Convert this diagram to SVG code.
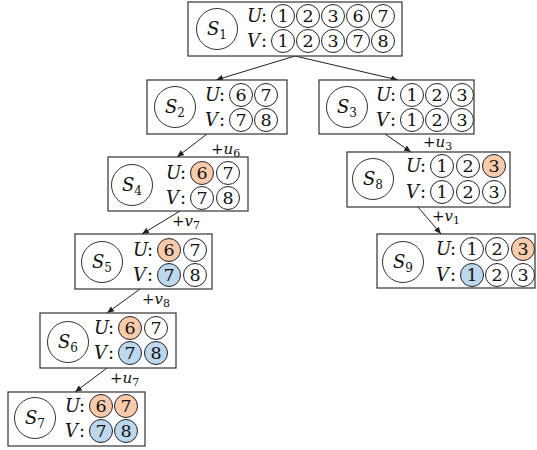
<svg xmlns="http://www.w3.org/2000/svg" width="537" height="450" viewBox="0 0 537 450">
<defs>
<style>
text{font-family:"DejaVu Serif",serif;fill:#111}
.box{fill:#fff;stroke:#333;stroke-width:1.2}
.sc{fill:#fff;stroke:#333;stroke-width:1}
.c{fill:#fff;stroke:#222;stroke-width:1}
.o{fill:#F8CBAD}
.b{fill:#BDD7EE}
.d{font-size:17.5px;text-anchor:middle}
.lab{font-size:18px;font-style:italic}
.col{font-size:18px}
.s{font-size:18px;text-anchor:middle}
.el{font-size:15px}
.edge{stroke:#222;stroke-width:1;fill:none;marker-end:url(#ah)}
</style>
<marker id="ah" markerWidth="8" markerHeight="8" refX="7" refY="4" orient="auto" markerUnits="userSpaceOnUse">
<path d="M0,1 L7,4 L0,7 Z" fill="#222"/>
</marker>
</defs>
<rect width="537" height="450" fill="#fff"/>

<g id="connectors">
<line class="edge" x1="295" y1="56" x2="216" y2="80"/>
<line class="edge" x1="295" y1="56" x2="398" y2="80"/>
<line class="edge" x1="207" y1="134" x2="177" y2="157"/>
<line class="edge" x1="385" y1="134" x2="411" y2="152"/>
<line class="edge" x1="180" y1="211" x2="142" y2="234"/>
<line class="edge" x1="418" y1="207" x2="441" y2="234"/>
<line class="edge" x1="140" y1="289" x2="107" y2="313"/>
<line class="edge" x1="107" y1="368" x2="75" y2="392"/>
<text class="el" x="211" y="154">+<tspan font-style="italic">u</tspan><tspan font-size="11" dy="3">6</tspan></text>
<text class="el" x="423" y="147">+<tspan font-style="italic">u</tspan><tspan font-size="11" dy="3">3</tspan></text>
<text class="el" x="172" y="226">+<tspan font-style="italic">v</tspan><tspan font-size="11" dy="3">7</tspan></text>
<text class="el" x="432" y="221">+<tspan font-style="italic">v</tspan><tspan font-size="11" dy="3">1</tspan></text>
<text class="el" x="142" y="304">+<tspan font-style="italic">v</tspan><tspan font-size="11" dy="3">8</tspan></text>
<text class="el" x="110" y="383">+<tspan font-style="italic">u</tspan><tspan font-size="11" dy="3">7</tspan></text>
</g>

<g id="S1">
<rect class="box" x="188" y="2" width="214" height="54"/>
<circle class="sc" cx="217" cy="29" r="20.5"/>
<text class="s" x="217" y="35"><tspan font-style="italic">S</tspan><tspan font-size="12" dy="4">1</tspan></text>
<text class="lab" x="247" y="22">U</text><text class="col" x="261" y="22">:</text>
<text class="lab" x="247" y="47">V</text><text class="col" x="261" y="47">:</text>
<circle class="c" cx="283" cy="16" r="11.5"/><text class="d" x="283" y="22">1</text>
<circle class="c" cx="308" cy="16" r="11.5"/><text class="d" x="308" y="22">2</text>
<circle class="c" cx="333" cy="16" r="11.5"/><text class="d" x="333" y="22">3</text>
<circle class="c" cx="358" cy="16" r="11.5"/><text class="d" x="358" y="22">6</text>
<circle class="c" cx="383" cy="16" r="11.5"/><text class="d" x="383" y="22">7</text>
<circle class="c" cx="283" cy="41" r="11.5"/><text class="d" x="283" y="47">1</text>
<circle class="c" cx="308" cy="41" r="11.5"/><text class="d" x="308" y="47">2</text>
<circle class="c" cx="333" cy="41" r="11.5"/><text class="d" x="333" y="47">3</text>
<circle class="c" cx="358" cy="41" r="11.5"/><text class="d" x="358" y="47">7</text>
<circle class="c" cx="383" cy="41" r="11.5"/><text class="d" x="383" y="47">8</text>
</g>

<g id="S2">
<rect class="box" x="147" y="80" width="140" height="54"/>
<circle class="sc" cx="175" cy="107" r="20.5"/>
<text class="s" x="175" y="113"><tspan font-style="italic">S</tspan><tspan font-size="12" dy="4">2</tspan></text>
<text class="lab" x="205" y="101">U</text><text class="col" x="219" y="101">:</text>
<text class="lab" x="205" y="126">V</text><text class="col" x="219" y="126">:</text>
<circle class="c" cx="241" cy="95" r="11.5"/><text class="d" x="241" y="101">6</text>
<circle class="c" cx="266" cy="95" r="11.5"/><text class="d" x="266" y="101">7</text>
<circle class="c" cx="241" cy="120" r="11.5"/><text class="d" x="241" y="126">7</text>
<circle class="c" cx="266" cy="120" r="11.5"/><text class="d" x="266" y="126">8</text>
</g>

<g id="S3">
<rect class="box" x="319" y="80" width="155" height="54"/>
<circle class="sc" cx="347" cy="107" r="20.5"/>
<text class="s" x="347" y="113"><tspan font-style="italic">S</tspan><tspan font-size="12" dy="4">3</tspan></text>
<text class="lab" x="376" y="101">U</text><text class="col" x="390" y="101">:</text>
<text class="lab" x="376" y="126">V</text><text class="col" x="390" y="126">:</text>
<circle class="c" cx="412" cy="95" r="11.5"/><text class="d" x="412" y="101">1</text>
<circle class="c" cx="437" cy="95" r="11.5"/><text class="d" x="437" y="101">2</text>
<circle class="c" cx="462" cy="95" r="11.5"/><text class="d" x="462" y="101">3</text>
<circle class="c" cx="412" cy="120" r="11.5"/><text class="d" x="412" y="126">1</text>
<circle class="c" cx="437" cy="120" r="11.5"/><text class="d" x="437" y="126">2</text>
<circle class="c" cx="462" cy="120" r="11.5"/><text class="d" x="462" y="126">3</text>
</g>

<g id="S4">
<rect class="box" x="108" y="157" width="140" height="54"/>
<circle class="sc" cx="132" cy="185" r="20.5"/>
<text class="s" x="132" y="191"><tspan font-style="italic">S</tspan><tspan font-size="12" dy="4">4</tspan></text>
<text class="lab" x="166" y="179">U</text><text class="col" x="180" y="179">:</text>
<text class="lab" x="166" y="204">V</text><text class="col" x="180" y="204">:</text>
<circle class="c o" cx="202" cy="173" r="11.5"/><text class="d" x="202" y="179">6</text>
<circle class="c" cx="228" cy="173" r="11.5"/><text class="d" x="228" y="179">7</text>
<circle class="c" cx="202" cy="198" r="11.5"/><text class="d" x="202" y="204">7</text>
<circle class="c" cx="228" cy="198" r="11.5"/><text class="d" x="228" y="204">8</text>
</g>

<g id="S8">
<rect class="box" x="347" y="152" width="163" height="55"/>
<circle class="sc" cx="373" cy="179" r="20.5"/>
<text class="s" x="373" y="185"><tspan font-style="italic">S</tspan><tspan font-size="12" dy="4">8</tspan></text>
<text class="lab" x="406" y="172">U</text><text class="col" x="420" y="172">:</text>
<text class="lab" x="406" y="198">V</text><text class="col" x="420" y="198">:</text>
<circle class="c" cx="442" cy="166" r="11.5"/><text class="d" x="442" y="172">1</text>
<circle class="c" cx="468" cy="166" r="11.5"/><text class="d" x="468" y="172">2</text>
<circle class="c o" cx="494" cy="166" r="11.5"/><text class="d" x="494" y="172">3</text>
<circle class="c" cx="442" cy="192" r="11.5"/><text class="d" x="442" y="198">1</text>
<circle class="c" cx="468" cy="192" r="11.5"/><text class="d" x="468" y="198">2</text>
<circle class="c" cx="494" cy="192" r="11.5"/><text class="d" x="494" y="198">3</text>
</g>

<g id="S5">
<rect class="box" x="75" y="234" width="137" height="55"/>
<circle class="sc" cx="102" cy="262" r="20.5"/>
<text class="s" x="102" y="268"><tspan font-style="italic">S</tspan><tspan font-size="12" dy="4">5</tspan></text>
<text class="lab" x="133" y="256">U</text><text class="col" x="147" y="256">:</text>
<text class="lab" x="133" y="281">V</text><text class="col" x="147" y="281">:</text>
<circle class="c o" cx="169" cy="250" r="11.5"/><text class="d" x="169" y="256">6</text>
<circle class="c" cx="195" cy="250" r="11.5"/><text class="d" x="195" y="256">7</text>
<circle class="c b" cx="169" cy="275" r="11.5"/><text class="d" x="169" y="281">7</text>
<circle class="c" cx="195" cy="275" r="11.5"/><text class="d" x="195" y="281">8</text>
</g>

<g id="S9">
<rect class="box" x="377" y="234" width="158" height="54"/>
<circle class="sc" cx="403" cy="262" r="20.5"/>
<text class="s" x="403" y="268"><tspan font-style="italic">S</tspan><tspan font-size="12" dy="4">9</tspan></text>
<text class="lab" x="436" y="255">U</text><text class="col" x="450" y="255">:</text>
<text class="lab" x="436" y="281">V</text><text class="col" x="450" y="281">:</text>
<circle class="c" cx="472" cy="249" r="11.5"/><text class="d" x="472" y="255">1</text>
<circle class="c" cx="497" cy="249" r="11.5"/><text class="d" x="497" y="255">2</text>
<circle class="c o" cx="523" cy="249" r="11.5"/><text class="d" x="523" y="255">3</text>
<circle class="c b" cx="472" cy="275" r="11.5"/><text class="d" x="472" y="281">1</text>
<circle class="c" cx="497" cy="275" r="11.5"/><text class="d" x="497" y="281">2</text>
<circle class="c" cx="523" cy="275" r="11.5"/><text class="d" x="523" y="281">3</text>
</g>

<g id="S6">
<rect class="box" x="40" y="313" width="136" height="55"/>
<circle class="sc" cx="68" cy="342" r="20.5"/>
<text class="s" x="68" y="348"><tspan font-style="italic">S</tspan><tspan font-size="12" dy="4">6</tspan></text>
<text class="lab" x="94" y="334">U</text><text class="col" x="108" y="334">:</text>
<text class="lab" x="94" y="359">V</text><text class="col" x="108" y="359">:</text>
<circle class="c o" cx="130" cy="328" r="11.5"/><text class="d" x="130" y="334">6</text>
<circle class="c" cx="156" cy="328" r="11.5"/><text class="d" x="156" y="334">7</text>
<circle class="c b" cx="130" cy="353" r="11.5"/><text class="d" x="130" y="359">7</text>
<circle class="c b" cx="156" cy="353" r="11.5"/><text class="d" x="156" y="359">8</text>
</g>

<g id="S7">
<rect class="box" x="8" y="392" width="137" height="54"/>
<circle class="sc" cx="35" cy="418" r="20.5"/>
<text class="s" x="35" y="424"><tspan font-style="italic">S</tspan><tspan font-size="12" dy="4">7</tspan></text>
<text class="lab" x="65" y="412">U</text><text class="col" x="79" y="412">:</text>
<text class="lab" x="65" y="437">V</text><text class="col" x="79" y="437">:</text>
<circle class="c o" cx="101" cy="406" r="11.5"/><text class="d" x="101" y="412">6</text>
<circle class="c o" cx="126" cy="406" r="11.5"/><text class="d" x="126" y="412">7</text>
<circle class="c b" cx="101" cy="431" r="11.5"/><text class="d" x="101" y="437">7</text>
<circle class="c b" cx="126" cy="431" r="11.5"/><text class="d" x="126" y="437">8</text>
</g>
</svg>
